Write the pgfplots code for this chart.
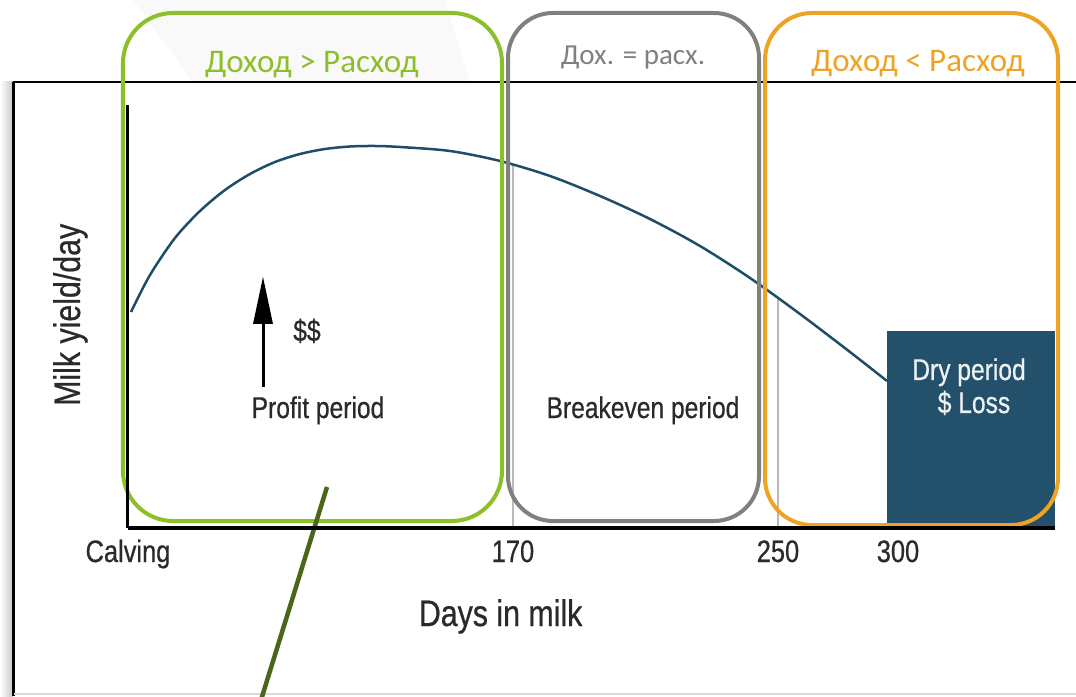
\documentclass[border=0pt]{standalone}
\usepackage{pgfplots}
\pgfplotsset{compat=1.18}
\usepackage{fontspec}
\setmainfont{Liberation Sans}
\newfontfamily\cond[FakeStretch=0.82, FakeBold=0.6]{Liberation Sans}
\newfontfamily\carl{Carlito}
\definecolor{cgreen}{HTML}{8CBF2A}
\definecolor{cgray}{HTML}{808080}
\definecolor{corange}{HTML}{EFA325}
\definecolor{ccurve}{HTML}{1E4D68}
\definecolor{cbox}{HTML}{23506A}
\definecolor{colive}{HTML}{4A6618}
\definecolor{ctext}{HTML}{2A2A2A}
\begin{document}
\begin{tikzpicture}
\begin{axis}[
  scale only axis, width=927pt, height=423pt,
  xmin=128, xmax=1055, ymin=168, ymax=591,
  clip=false, axis on top,
  axis x line*=bottom, axis y line*=left,
  x axis line style={line width=4pt, black},
  y axis line style={line width=3pt, black},
  xtick={128,513,778,898}, xticklabels={Calving,170,250,300},
  ytick=\empty, major tick length=0pt,
  xticklabel style={font=\cond\fontsize{31}{33}\selectfont, text=ctext, anchor=base, yshift=-34pt, inner sep=0pt},
  xlabel={Days in milk},
  xlabel style={font=\cond\fontsize{37}{40}\selectfont, text=ctext, at={(axis description cs:0.402,-0.2317)}, anchor=base, inner sep=0pt},
  ylabel={Milk yield/day},
  ylabel style={font=\cond\fontsize{37}{40}\selectfont, text=ctext, at={(axis description cs:-0.0518,0.504)}, rotate=0, anchor=base, inner sep=0pt},
]
% bounding coordinates (pixel frame 1076 x 696)
\coordinate (bl) at (axis cs:0,0);
\coordinate (tr) at (axis cs:1076,696);
% faint slide decoration
\fill[gray!5] (axis cs:133,696) -- (axis cs:445,696) -- (axis cs:470,614) -- (axis cs:193,614) -- cycle;
% outer picture frame
\shade[left color=white, right color=gray!45] (axis cs:0,0) rectangle (axis cs:13,614);
\draw[black, line width=2pt] (axis cs:13,614) -- (axis cs:1076,614);
\draw[black, line width=3pt] (axis cs:14,614) -- (axis cs:14,0);
\draw[gray!30, line width=1.5pt] (axis cs:14,2) -- (axis cs:1076,2);
% breakeven guide lines
\addplot[gray!55, line width=1.2pt] coordinates {(513,168) (513,531)};
\addplot[gray!55, line width=1.2pt] coordinates {(778,168) (778,398)};
% dry period block
\addplot[fill=cbox, draw=none] coordinates {(887,168) (887,365) (1055,365) (1055,168)} -- cycle;
% lactation curve
\addplot[ccurve, line width=2.5pt, smooth] coordinates {
(131,384) (150,421) (175,458) (200,485) (225,506) (250,522) (275,534)
(300,542) (325,547) (350,549.5) (375,550) (400,549) (450,545) (500,535)
(550,520) (600,500) (650,477) (700,450) (750,418) (800,382) (850,344) (887,315)};
% arrow and texts
\draw[black, line width=3pt] (axis cs:263,309) -- (axis cs:263,375);
\fill[black] (axis cs:253,372) -- (axis cs:273,372) -- (axis cs:263,419) -- cycle;
\node[font=\cond\fontsize{30}{32}\selectfont, text=ctext, anchor=base, inner sep=0pt] at (axis cs:307,355) {\$\$};
\node[font=\cond\fontsize{30}{32}\selectfont, text=ctext, anchor=base, inner sep=0pt] at (axis cs:318,278) {Profit period};
\node[font=\cond\fontsize{30}{32}\selectfont, text=ctext, anchor=base, inner sep=0pt] at (axis cs:643,278) {Breakeven period};
\node[font=\cond\fontsize{30}{32}\selectfont, text=white!92!cbox, anchor=base, inner sep=0pt] at (axis cs:969,316) {Dry period};
\node[font=\cond\fontsize{30}{32}\selectfont, text=white!92!cbox, anchor=base, inner sep=0pt] at (axis cs:974,283) {\$ Loss};
% overlay rounded boxes
\draw[cgreen, line width=4pt, rounded corners=50pt] (axis cs:123,175) rectangle (axis cs:502,683);
\draw[cgray, line width=4pt, rounded corners=45pt] (axis cs:508,175) rectangle (axis cs:759,683);
\draw[corange, line width=4pt, rounded corners=47pt] (axis cs:765,171) rectangle (axis cs:1058,683);
\node[font=\carl\fontsize{33}{36}\selectfont, text=cgreen, anchor=base, inner sep=0pt] at (axis cs:312,623) {Доход > Расход};
\node[font=\carl\fontsize{29}{32}\selectfont, text=cgray, anchor=base, inner sep=0pt] at (axis cs:633,631) {Дох. = расх.};
\node[font=\carl\fontsize{33}{36}\selectfont, text=corange, anchor=base, inner sep=0pt] at (axis cs:918,624) {Доход < Расход};
% pointer line
\draw[colive, line width=4.5pt] (axis cs:327,209) -- (axis cs:261,-4);
\end{axis}
\pgfresetboundingbox
\path[use as bounding box] (bl) rectangle (tr);
\end{tikzpicture}
\end{document}
